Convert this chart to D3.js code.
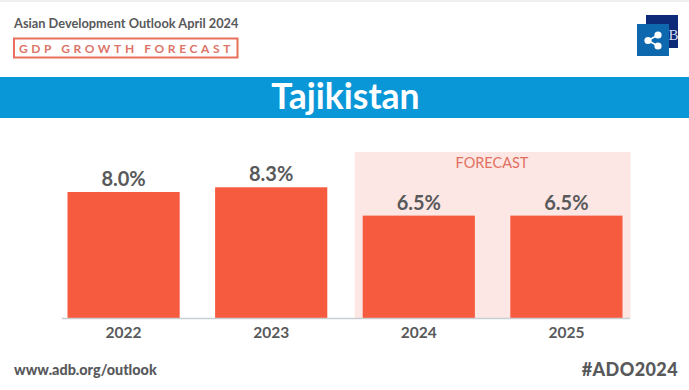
<!DOCTYPE html>
<html><head><meta charset="utf-8">
<script src="https://cdn.jsdelivr.net/npm/d3@7"></script>
<style>html,body{margin:0;padding:0;background:#fff}svg{display:block}text{font-family:Lato,sans-serif}</style>
</head><body><svg id="c" width="689" height="390"></svg>
<script>
const categories = ["2022","2023","2024","2025"];
const values = [8.0,8.3,6.5,6.5];
const forecastYears = ["2024","2025"];
const labels = ["8.0%","8.3%","6.5%","6.5%"];
const title = "Tajikistan";

const svg = d3.select("#c");
const x = d3.scaleBand().domain(categories).range([67.5,622.5]).paddingInner(0.24).paddingOuter(0);
const y = d3.scaleLinear().domain([0,8]).range([318,192]);
const BAR="#f75b3f", GREY="#58595b";

svg.append("rect").attr("width",689).attr("height",2).attr("fill","#efefef");
svg.append("text").attr("x",14).attr("y",28).attr("font-size",12.8).attr("font-weight",700).attr("fill",GREY).text("Asian Development Outlook April 2024");
svg.append("rect").attr("x",14).attr("y",38.5).attr("width",223.5).attr("height",19).attr("fill","none").attr("stroke","#e8705c").attr("stroke-width",2);
svg.append("text").attr("x",19).attr("y",53).attr("font-size",12).attr("font-weight",700).attr("letter-spacing",3.6).attr("fill","#dd7468").text("GDP GROWTH FORECAST");

// logo
svg.append("rect").attr("x",646).attr("y",15).attr("width",32).attr("height",33).attr("fill","#0c2a78");
svg.append("text").attr("x",673.5).attr("y",40).attr("text-anchor","middle").attr("font-size",15).attr("fill","#d5dcf0").style("font-family","Liberation Serif").text("B");
svg.append("rect").attr("x",637).attr("y",24).attr("width",32).attr("height",32).attr("fill","#0d68ae");
const nodes=[[648,40.5],[658,35],[658,46]];
svg.append("path").attr("d",`M${nodes[1]}L${nodes[0]}L${nodes[2]}`).attr("fill","none").attr("stroke","#fff").attr("stroke-width",1.6);
svg.selectAll("circle.n").data(nodes).join("circle").attr("cx",d=>d[0]).attr("cy",d=>d[1]).attr("r",3.6).attr("fill","#fff");

// banner
svg.append("rect").attr("y",77).attr("width",689).attr("height",41).attr("fill","#0a97d8");
svg.append("text").attr("x",345.5).attr("y",109).attr("text-anchor","middle").attr("font-size",35.5).attr("font-weight",700).attr("fill","#fff").text(title);

// forecast panel
const fx0 = x(forecastYears[0])-8, fx1 = x(forecastYears[1])+x.bandwidth()+8;
svg.append("rect").attr("x",fx0).attr("y",152).attr("width",fx1-fx0).attr("height",y(0)-152).attr("fill","#fde7e4");
svg.append("text").attr("x",492).attr("y",168).attr("text-anchor","middle").attr("font-size",14.5).attr("fill","#e2705f").text("FORECAST");

// bars
svg.selectAll("rect.bar").data(categories).join("rect").attr("class","bar")
  .attr("x",d=>x(d)).attr("width",x.bandwidth())
  .attr("y",(d,i)=>y(values[i])).attr("height",(d,i)=>y(0)-y(values[i])).attr("fill",BAR);
svg.selectAll("text.val").data(categories).join("text").attr("class","val")
  .attr("x",d=>x(d)+x.bandwidth()/2).attr("y",(d,i)=>y(values[i])-6)
  .attr("text-anchor","middle").attr("font-size",20).attr("font-weight",700).attr("fill",GREY).text((d,i)=>labels[i]);

// axis
const ax = svg.append("g").attr("transform",`translate(0,${y(0)})`).call(d3.axisBottom(x).tickSize(0).tickPadding(9));
ax.select(".domain").attr("stroke","#c8cfd2").attr("stroke-width",1.5).attr("d","M62,0.5H630");
ax.selectAll("text").attr("font-size",15.5).attr("font-weight",700).attr("fill",GREY).style("font-family","Lato,sans-serif");

// footer
svg.append("text").attr("x",14).attr("y",375).attr("font-size",14.4).attr("font-weight",900).attr("fill",GREY).text("www.adb.org/outlook");
svg.append("text").attr("x",678).attr("y",376).attr("text-anchor","end").attr("font-size",18).attr("font-weight",900).attr("letter-spacing",0.4).attr("fill",GREY).text("#ADO2024");
</script></body></html>
